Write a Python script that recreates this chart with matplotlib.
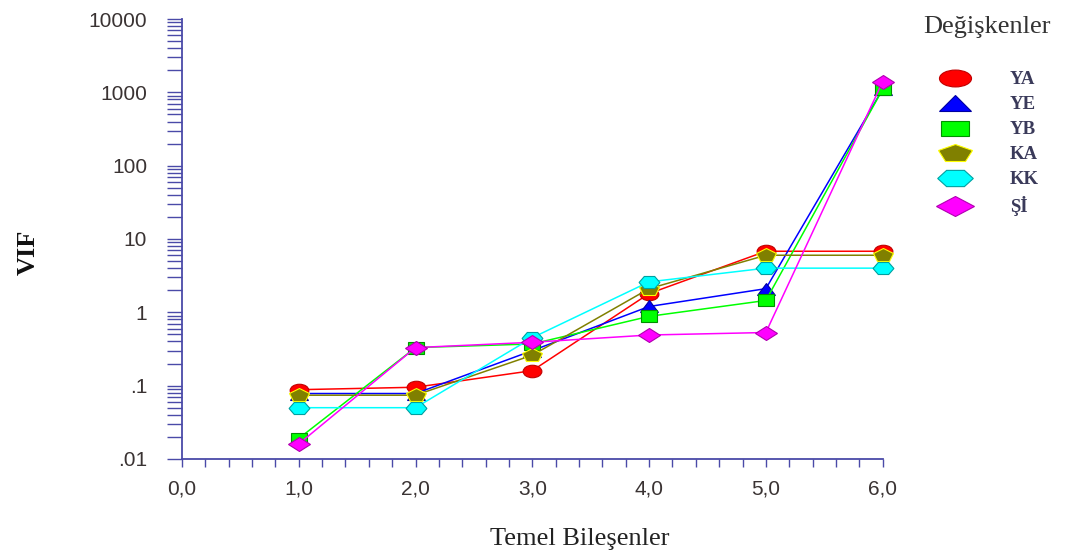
import matplotlib
matplotlib.use("Agg")
import matplotlib.pyplot as plt
from matplotlib.markers import MarkerStyle
from matplotlib.transforms import Affine2D
from matplotlib.lines import Line2D
from matplotlib.ticker import FixedLocator, MultipleLocator, LogLocator, NullFormatter

# ---- data ----
components = [1, 2, 3, 4, 5, 6]
YA = [0.088, 0.095, 0.16, 1.8, 6.8, 6.8]
YE = [0.078, 0.078, 0.30, 1.2, 2.1, 1100]
YB = [0.019, 0.33, 0.37, 0.88, 1.45, 1100]
KA = [0.074, 0.074, 0.26, 2.1, 6.0, 6.0]
KK = [0.050, 0.050, 0.45, 2.6, 4.0, 4.0]
SI = [0.016, 0.33, 0.39, 0.49, 0.53, 1400]
series_names = ["YA", "YE", "YB", "KA", "KK", "Şİ"]
y_ticks = [0.01, 0.1, 1, 10, 100, 1000, 10000]
y_ticklabels = [".01", ".1", "1", "10", "100", "1000", "10000"]
x_ticks = [0, 1, 2, 3, 4, 5, 6]
x_ticklabels = ["0,0", "1,0", "2,0", "3,0", "4,0", "5,0", "6,0"]

series = [YA, YE, YB, KA, KK, SI]
styles = [
    dict(color="#ff0000", mk="o", mec="#c00000", ms=9),
    dict(color="#0000ff", mk="^", mec="#0000a0", ms=9),
    dict(color="#00ff00", mk="s", mec="#009000", ms=8),
    dict(color="#808000", mk="p", mec="#ffff00", ms=10),
    dict(color="#00ffff", mk="H", mec="#00a0a0", ms=10),
    dict(color="#ff00ff", mk="D", mec="#b000b0", ms=7.5),
]

def mstyle(m, sx=1.5):
    return MarkerStyle(m, transform=Affine2D().scale(sx, 1.0))

fig = plt.figure(figsize=(10.83, 5.59), dpi=100)
ax = fig.add_axes([0.168, 0.179, 0.647, 0.787])

axis_col = "#4a4aa8"
for vals, name, st in zip(series, series_names, styles):
    ax.plot(components, vals, color=st["color"], lw=1.1,
            marker=mstyle(st["mk"]), ms=st["ms"], mfc=st["color"],
            mec=st["mec"], mew=0.8, clip_on=False, label=name)

ax.set_yscale("log")
ax.set_ylim(0.01, 10000)
ax.set_xlim(0, 6)

ax.yaxis.set_major_locator(FixedLocator(y_ticks))
ax.set_yticklabels(y_ticklabels)
ax.yaxis.set_minor_locator(LogLocator(base=10, subs=range(2, 10), numticks=20))
ax.yaxis.set_minor_formatter(NullFormatter())
ax.set_xticks(x_ticks)
ax.set_xticklabels(x_ticklabels)
ax.xaxis.set_minor_locator(MultipleLocator(0.2))

for s in ["top", "right"]:
    ax.spines[s].set_visible(False)
for s in ["left", "bottom"]:
    ax.spines[s].set_color(axis_col)
    ax.spines[s].set_linewidth(1.3)

ax.tick_params(axis="y", which="both", direction="out", length=11, width=1.0,
               color=axis_col, labelsize=15, labelcolor="#3a3333", pad=14)
ax.tick_params(axis="x", which="both", direction="out", length=6, width=1.0,
               color=axis_col, labelsize=15, labelcolor="#3a3333", pad=9)
for lab in ax.get_xticklabels() + ax.get_yticklabels():
    lab.set_fontfamily("Liberation Sans")

ax.set_ylabel("VIF", fontfamily="Liberation Serif", fontweight="bold",
              fontsize=19, color="#111111")
ax.yaxis.set_label_coords(-0.203, 0.47)
ax.set_xlabel("Temel Bileşenler", fontfamily="Liberation Serif",
              fontsize=19, color="#222222")
ax.xaxis.set_label_coords(0.568, -0.158)

handles = [Line2D([], [], ls="none", marker=mstyle(st["mk"], 1.9), ms=st["ms"] * 1.35,
                  mfc=st["color"], mec=st["mec"], mew=0.8) for st in styles]
leg = fig.legend(handles, series_names, loc="upper center",
                 bbox_to_anchor=(0.911, 0.985), frameon=False,
                 title="Değişkenler",
                 prop=dict(family="Liberation Serif", weight="bold", size=13.5),
                 title_fontproperties=dict(family="Liberation Serif", size=19),
                 handlelength=2.2, handletextpad=1.8, labelspacing=0.42,
                 borderaxespad=0)
leg._legend_box.sep = 24
for t in leg.get_texts():
    t.set_color("#3a3a5a")
leg.get_title().set_color("#333333")

fig.savefig("out.png", dpi=100)
